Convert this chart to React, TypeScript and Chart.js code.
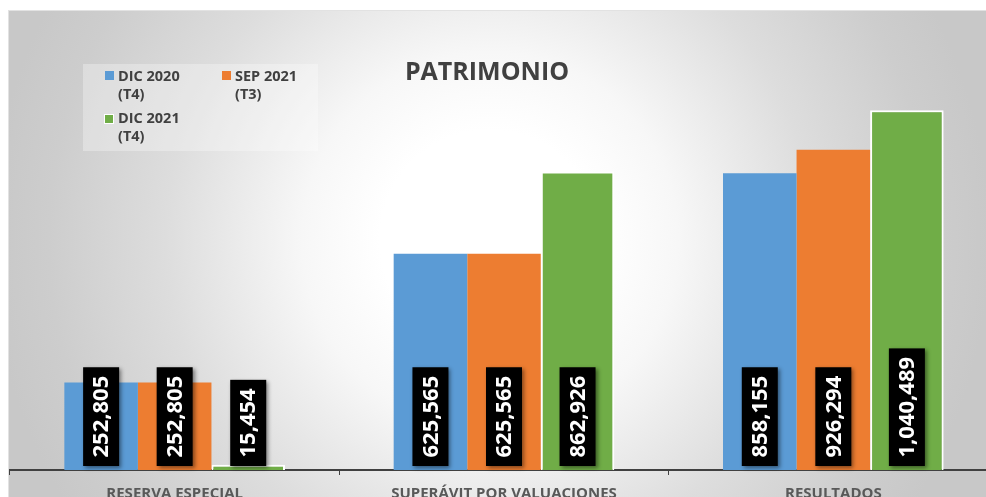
import React, { useEffect, useRef } from 'react';
import { Chart, registerables } from 'chart.js';

Chart.register(...registerables);

const chartTitle = 'PATRIMONIO';
const categories = ['RESERVA ESPECIAL', 'SUPERÁVIT POR VALUACIONES', 'RESULTADOS'];
const seriesLabels = [
  ['DIC 2020', '(T4)'],
  ['SEP 2021', '(T3)'],
  ['DIC 2021', '(T4)'],
];
const dic2020 = [252805, 625565, 858155];
const sep2021 = [252805, 625565, 926294];
const dic2021 = [15454, 862926, 1040489];
const seriesColors = ['#5B9BD5', '#ED7D31', '#70AD47'];

const W = 1000;
const H = 500;
const FONT = '"Open Sans", "Noto Sans", sans-serif';

const bgPlugin = {
  id: 'bgPlugin',
  beforeDraw(chart: any) {
    const ctx = chart.ctx;
    ctx.save();
    const g = ctx.createRadialGradient(482, 230, 110, 482, 230, 500);
    g.addColorStop(0, '#ffffff');
    g.addColorStop(0.2, '#f7f7f7');
    g.addColorStop(0.55, '#dddddd');
    g.addColorStop(0.85, '#cdcdcd');
    g.addColorStop(1, '#c8c8c8');
    ctx.fillStyle = g;
    ctx.fillRect(0, 0, W, H);
    ctx.strokeStyle = '#e2e2e2';
    ctx.lineWidth = 1;
    ctx.beginPath();
    ctx.moveTo(0, 0.5);
    ctx.lineTo(W, 0.5);
    ctx.moveTo(0.5, 0);
    ctx.lineTo(0.5, H);
    ctx.stroke();
    ctx.restore();
  },
};

const labelPlugin = {
  id: 'labelPlugin',
  afterDatasetsDraw(chart: any) {
    const ctx = chart.ctx;
    const bottom = chart.chartArea.bottom - 4;
    chart.data.datasets.forEach((ds: any, i: number) => {
      const meta = chart.getDatasetMeta(i);
      meta.data.forEach((el: any, j: number) => {
        const text = Number(ds.data[j]).toLocaleString('en-US');
        ctx.save();
        ctx.font = `bold 22px ${FONT}`;
        const tw = ctx.measureText(text).width;
        const h = tw + 17;
        const w = 36;
        const x = el.x;
        ctx.shadowColor = 'rgba(0,0,0,0.45)';
        ctx.shadowBlur = 4;
        ctx.shadowOffsetX = 2;
        ctx.shadowOffsetY = 2;
        ctx.fillStyle = '#000000';
        ctx.fillRect(x - w / 2, bottom - h, w, h);
        ctx.shadowColor = 'transparent';
        ctx.translate(x + 1, bottom - h / 2);
        ctx.rotate(-Math.PI / 2);
        ctx.fillStyle = '#ffffff';
        ctx.textAlign = 'center';
        ctx.textBaseline = 'middle';
        ctx.fillText(text, 0, 0);
        ctx.restore();
      });
    });
  },
};

const overlayPlugin = {
  id: 'overlayPlugin',
  afterDraw(chart: any) {
    const ctx = chart.ctx;
    ctx.save();
    ctx.font = `bold 25px ${FONT}`;
    ctx.fillStyle = '#404040';
    ctx.textAlign = 'center';
    ctx.textBaseline = 'alphabetic';
    ctx.fillText(chartTitle, 479, 70);

    ctx.fillStyle = 'rgba(255,255,255,0.3)';
    ctx.fillRect(75, 54, 235, 87);

    const items = [
      { sx: 97, sy: 61, tx: 110, by: 71 },
      { sx: 214, sy: 61, tx: 227, by: 71 },
      { sx: 97, sy: 105, tx: 110, by: 113 },
    ];
    ctx.font = `bold 14.5px ${FONT}`;
    ctx.textAlign = 'left';
    items.forEach((it, i) => {
      if (i === 2) {
        ctx.fillStyle = '#ffffff';
        ctx.fillRect(it.sx - 1, it.sy - 1, 10, 10);
        ctx.fillStyle = seriesColors[i];
        ctx.fillRect(it.sx, it.sy, 8, 8);
      } else {
        ctx.fillStyle = seriesColors[i];
        ctx.fillRect(it.sx, it.sy, 9, 9);
      }
      ctx.fillStyle = '#404040';
      ctx.fillText(seriesLabels[i][0], it.tx, it.by);
      ctx.fillText(seriesLabels[i][1], it.tx, it.by + 18);
    });
    ctx.restore();
  },
};

export default function App() {
  const ref = useRef<HTMLCanvasElement>(null);

  useEffect(() => {
    if (!ref.current) return;
    const chart = new Chart(ref.current, {
      type: 'bar',
      data: {
        labels: categories,
        datasets: [
          {
            label: seriesLabels[0].join(' '),
            data: dic2020,
            backgroundColor: seriesColors[0],
            borderWidth: 0,
          },
          {
            label: seriesLabels[1].join(' '),
            data: sep2021,
            backgroundColor: seriesColors[1],
            borderWidth: 0,
          },
          {
            label: seriesLabels[2].join(' '),
            data: dic2021,
            backgroundColor: seriesColors[2],
            borderColor: '#ffffff',
            borderWidth: 2,
          },
        ],
      },
      options: {
        responsive: false,
        animation: false,
        devicePixelRatio: 1,
        layout: { padding: { left: 2, right: 10, top: 45, bottom: 0 } },
        plugins: {
          legend: { display: false },
          title: { display: false },
          tooltip: { enabled: false },
        },
        datasets: {
          bar: { categoryPercentage: 0.67, barPercentage: 1.0 },
        },
        scales: {
          x: {
            afterFit: (scale: any) => {
              scale.height = 40;
            },
            grid: {
              display: true,
              drawOnChartArea: false,
              drawTicks: true,
              tickLength: 5,
              color: '#404040',
              offset: true,
            },
            border: { display: true, color: '#404040', width: 2 },
            ticks: {
              color: '#595959',
              font: { family: FONT, size: 15, weight: 'bold' },
              padding: 10,
              maxRotation: 0,
              autoSkip: false,
            },
          },
          y: {
            display: false,
            min: 0,
            max: 1200000,
          },
        },
      },
      plugins: [bgPlugin, labelPlugin, overlayPlugin],
    } as any);
    return () => chart.destroy();
  }, []);

  return (
    <div
      style={{
        position: 'fixed',
        left: 0,
        top: 0,
        width: 986,
        height: 497,
        overflow: 'hidden',
        background: '#ffffff',
      }}
    >
      <canvas
        ref={ref}
        width={W}
        height={H}
        style={{ position: 'absolute', left: 8, top: 10, width: W, height: H }}
      />
    </div>
  );
}
